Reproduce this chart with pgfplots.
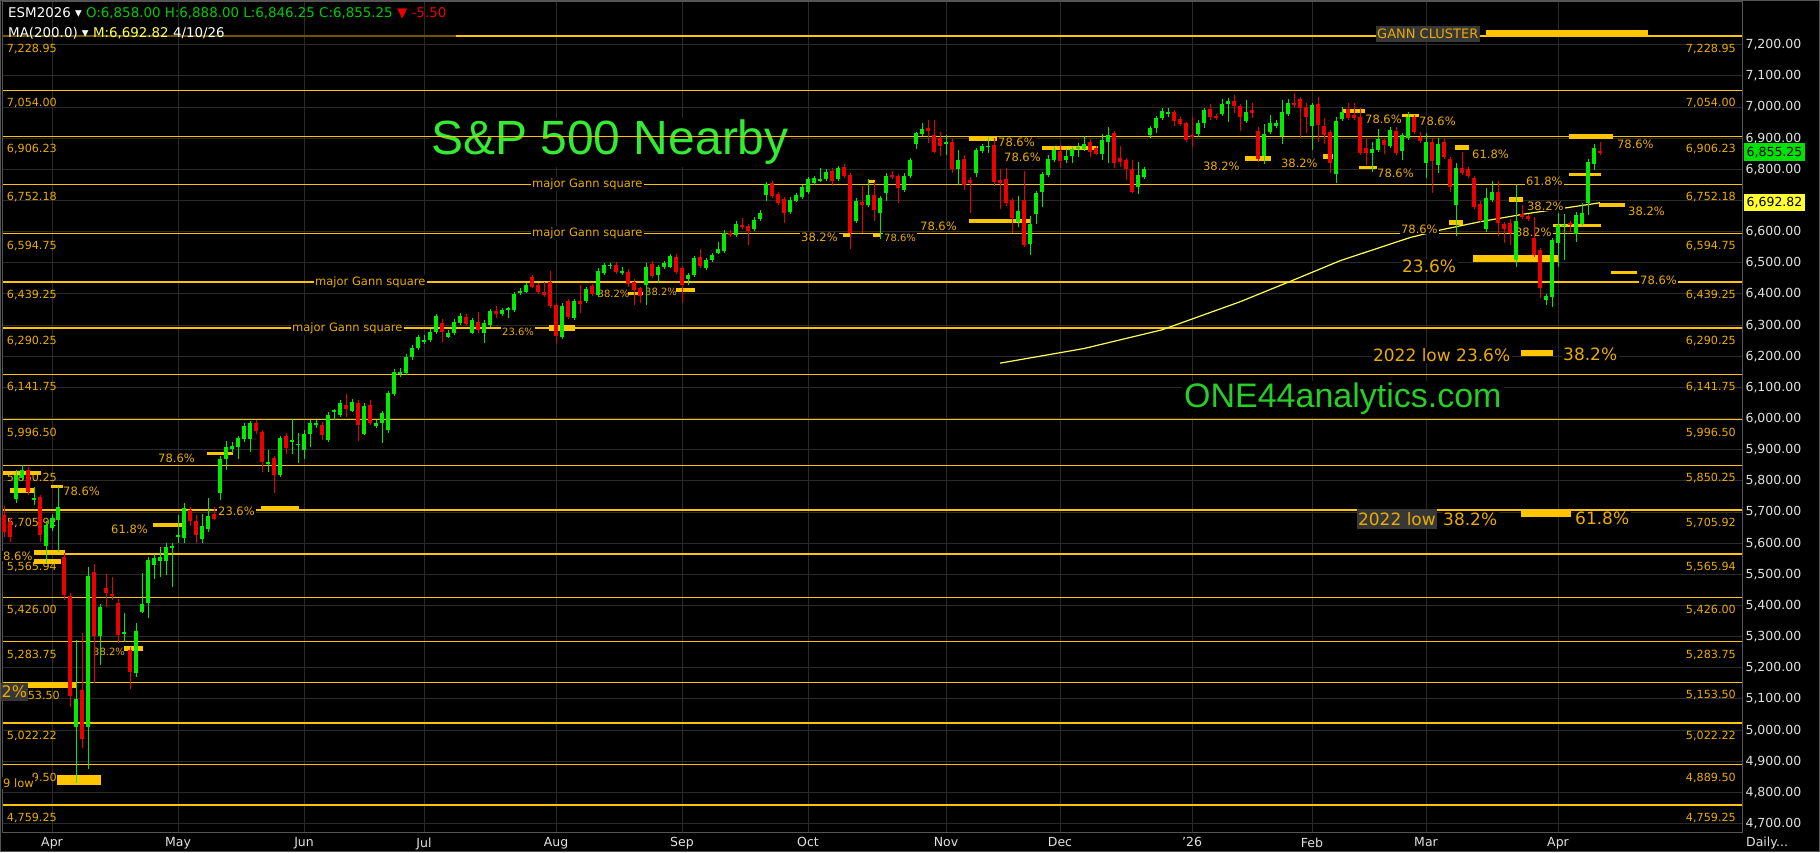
\documentclass[border=0pt]{standalone}
\usepackage{pgfplots}
\usepackage{pgfplotstable}
\pgfplotsset{compat=1.18}
\usepackage{fontspec}
\setmainfont{DejaVu Sans}
\newfontfamily\arialf{Liberation Sans}

\definecolor{gold}{RGB}{255,195,0}
\definecolor{golddim}{RGB}{110,85,0}
\definecolor{goldtxt}{RGB}{235,172,0}
\definecolor{goldbar}{RGB}{255,198,0}
\definecolor{cgreen}{RGB}{0,235,0}
\definecolor{cred}{RGB}{235,0,0}
\definecolor{gridc}{RGB}{42,42,42}
\definecolor{framec}{RGB}{85,85,85}
\definecolor{titlegreen}{RGB}{50,235,50}
\definecolor{sitegreen}{RGB}{40,205,40}
\definecolor{mayellow}{RGB}{255,255,90}
\definecolor{hdrgreen}{RGB}{0,205,0}
\definecolor{tickc}{RGB}{225,225,225}
\definecolor{labbg}{RGB}{55,55,55}
\definecolor{boxgreen}{RGB}{0,225,0}
\definecolor{boxyellow}{RGB}{255,255,50}

% pixel position of the reference -> axis units (candle index, price)
\newcommand\PX[1]{((#1-4)/6)}
\newcommand\PY[1]{(6600+(231.7-(#1))*3.21)}

\tikzset{
  sm/.style={font=\fontsize{11.5}{12}\selectfont, text=goldtxt, fill=black,
    inner xsep=1.5pt, inner ysep=1pt, anchor=west},
  sx/.style={sm, font=\fontsize{10}{11}\selectfont},
  lg/.style={sm, font=\fontsize{17}{18}\selectfont},
  glab/.style={font=\fontsize{11.2}{12}\selectfont, text=goldtxt, inner sep=0pt, yshift=-13pt},
}
\newcommand\lab[4][sm]{\node[#1] at (axis cs:{\PX{#2}},{\PY{#3}}) {#4};}
\newcommand\gbar[4]{\fill[goldbar] (axis cs:{\PX{#1}},{\PY{#3}}) rectangle (axis cs:{\PX{#2}},{\PY{#4}});}
% level line, right label, and left label (right-aligned, may be cut short)
\newcommand\gannline[1]{\draw[gold, line width=1.5pt] (axis cs:-0.17,#1) -- (axis cs:289.67,#1);}
\newcommand\gann[4][57]{%
  \gannline{#2}
  \node[glab, anchor=east] at (axis cs:{\PX{#1}},#2) {#4};
  \node[glab, anchor=east] at (axis cs:{\PX{1736}},#2) {#3};
}

% daily bars, ESM2026 nearby: index, open, high, low, close
\pgfplotstableread{
i O H L C
0 5690 5720 5620 5635
1 5669 5680 5605 5619
2 5741 5835 5730 5819
3 5808 5850 5800 5835
4 5835 5845 5755 5766
5 5740 5782 5723 5745
6 5747 5755 5605 5626
7 5591 5670 5535 5658
8 5648 5695 5640 5680
9 5675 5782 5573 5715
10 5557 5570 5418 5434
11 5431 5440 5075 5110
12 5009 5289 4831 5099
13 5129 5311 4942 4970
14 5009 5525 4874 5495
15 5509 5533 5150 5302
16 5302 5405 5209 5394
17 5455 5501 5394 5441
18 5437 5490 5418 5431
19 5409 5420 5279 5305
20 5311 5377 5284 5315
21 5257 5268 5131 5188
22 5185 5345 5172 5319
23 5380 5503 5375 5405
24 5409 5555 5359 5546
25 5530 5564 5484 5552
26 5544 5589 5493 5557
27 5544 5600 5498 5589
28 5584 5600 5460 5591
29 5619 5691 5602 5626
30 5616 5730 5602 5712
31 5707 5716 5655 5672
32 5672 5691 5602 5626
33 5613 5693 5600 5655
34 5645 5744 5637 5687
35 5694 5715 5675 5678
36 5762 5880 5739 5869
37 5869 5929 5835 5908
38 5901 5925 5890 5912
39 5908 5945 5869 5937
40 5933 5985 5925 5976
41 5933 5992 5894 5985
42 5985 5995 5950 5961
43 5958 5965 5830 5862
44 5858 5899 5830 5860
45 5872 5880 5760 5819
46 5819 5945 5812 5937
47 5944 5955 5888 5905
48 5925 6000 5885 5930
49 5915 5953 5856 5920
50 5899 5964 5869 5951
51 5951 5995 5910 5985
52 5980 5995 5970 5985
53 5980 5990 5931 5947
54 5931 6020 5925 6012
55 6022 6030 5996 6026
56 6012 6060 6005 6051
57 6044 6079 6006 6030
58 6026 6062 6020 6054
59 6051 6060 5929 5980
60 5950 6050 5947 6040
61 6044 6060 5980 5987
62 5976 5995 5970 5987
63 5987 6026 5921 6017
64 5963 6090 5955 6083
65 6079 6160 6072 6151
66 6145 6161 6132 6150
67 6148 6207 6140 6199
68 6199 6236 6188 6228
69 6226 6268 6220 6261
70 6247 6268 6240 6252
71 6252 6287 6245 6279
72 6279 6337 6272 6329
73 6308 6319 6247 6279
74 6263 6285 6260 6276
75 6274 6320 6268 6311
76 6306 6338 6300 6329
77 6325 6335 6296 6304
78 6276 6323 6270 6315
79 6311 6343 6274 6285
80 6276 6315 6244 6308
81 6300 6352 6295 6345
82 6345 6361 6322 6336
83 6336 6356 6330 6349
84 6350 6357 6322 6354
85 6349 6408 6342 6400
86 6404 6418 6397 6408
87 6408 6436 6402 6429
88 6454 6461 6418 6424
89 6429 6436 6400 6408
90 6408 6440 6390 6397
91 6440 6475 6355 6362
92 6365 6372 6242 6265
93 6261 6370 6255 6362
94 6376 6385 6320 6327
95 6322 6383 6315 6376
96 6376 6429 6338 6368
97 6376 6423 6370 6415
98 6426 6433 6393 6400
99 6397 6483 6390 6475
100 6466 6500 6460 6493
101 6490 6500 6480 6494
102 6493 6504 6465 6472
103 6469 6486 6461 6472
104 6472 6480 6421 6432
105 6440 6448 6365 6413
106 6418 6424 6370 6392
107 6429 6499 6365 6486
108 6496 6505 6450 6458
109 6461 6494 6434 6486
110 6486 6507 6480 6499
111 6488 6530 6482 6522
112 6520 6528 6465 6472
113 6483 6490 6372 6429
114 6447 6468 6429 6461
115 6461 6523 6455 6515
116 6518 6543 6484 6490
117 6483 6517 6477 6509
118 6509 6533 6503 6525
119 6533 6568 6527 6543
120 6539 6605 6532 6597
121 6597 6605 6583 6590
122 6590 6633 6583 6625
123 6622 6643 6608 6614
124 6618 6625 6557 6603
125 6608 6646 6602 6638
126 6640 6669 6634 6661
127 6718 6761 6697 6753
128 6755 6762 6708 6715
129 6721 6728 6686 6693
130 6704 6711 6627 6661
131 6664 6710 6657 6702
132 6700 6725 6694 6718
133 6710 6750 6704 6742
134 6729 6775 6722 6768
135 6757 6778 6750 6771
136 6766 6803 6761 6769
137 6768 6800 6762 6793
138 6796 6803 6747 6764
139 6768 6811 6762 6804
140 6807 6817 6772 6779
141 6782 6790 6543 6597
142 6635 6708 6628 6700
143 6696 6747 6595 6686
144 6686 6768 6680 6718
145 6718 6761 6635 6670
146 6661 6715 6575 6707
147 6723 6790 6697 6779
148 6782 6796 6770 6777
149 6779 6786 6693 6739
150 6734 6787 6728 6779
151 6779 6838 6772 6830
152 6882 6921 6865 6916
153 6914 6950 6908 6929
154 6932 6957 6884 6924
155 6910 6958 6851 6857
156 6900 6921 6843 6875
157 6881 6910 6846 6889
158 6889 6896 6789 6800
159 6800 6862 6750 6830
160 6832 6846 6734 6750
161 6766 6777 6659 6757
162 6789 6868 6774 6862
163 6860 6881 6853 6875
164 6872 6903 6851 6875
165 6878 6900 6747 6761
166 6766 6800 6672 6757
167 6768 6803 6684 6691
168 6702 6709 6597 6643
169 6632 6715 6616 6667
170 6702 6796 6552 6557
171 6560 6651 6525 6625
172 6657 6730 6625 6723
173 6728 6792 6678 6785
174 6782 6846 6775 6832
175 6830 6871 6823 6862
176 6860 6878 6803 6828
177 6830 6867 6819 6843
178 6843 6872 6819 6864
179 6868 6884 6839 6871
180 6864 6907 6858 6881
181 6889 6896 6839 6857
182 6868 6875 6845 6851
183 6851 6914 6830 6894
184 6889 6935 6819 6910
185 6916 6923 6803 6819
186 6835 6875 6809 6825
187 6830 6837 6766 6800
188 6800 6830 6725 6728
189 6742 6823 6721 6782
190 6774 6809 6768 6800
191 6910 6940 6900 6932
192 6932 6971 6916 6964
193 6964 6996 6958 6988
194 6980 6996 6969 6982
195 6985 6992 6939 6956
196 6961 6968 6940 6946
197 6950 6953 6888 6894
198 6910 6969 6871 6903
199 6914 6957 6903 6950
200 6948 6998 6932 6991
201 6993 7010 6960 6967
202 6971 6978 6957 6964
203 6978 7025 6972 7010
204 7010 7028 6953 7021
205 7021 7039 6980 7003
206 7003 7010 6924 6969
207 6956 7023 6948 6985
208 6991 7012 6964 6980
209 6923 6937 6825 6832
210 6843 6946 6817 6913
211 6921 6975 6915 6948
212 6939 6958 6932 6950
213 6907 7023 6881 6985
214 6978 7025 6972 7012
215 7014 7046 7000 7007
216 7025 7033 6900 6996
217 6999 7012 6918 6969
218 6939 7014 6862 7007
219 7010 7031 6889 6942
220 6939 6964 6881 6910
221 6921 6928 6787 6822
222 6785 6969 6755 6956
223 6961 7001 6955 6985
224 6993 7012 6957 6964
225 6975 7014 6958 6964
226 6969 6996 6847 6854
227 6868 6900 6814 6854
228 6854 6889 6793 6864
229 6862 6929 6856 6896
230 6894 6900 6849 6878
231 6875 6937 6870 6926
232 6924 6937 6847 6854
233 6860 6917 6830 6910
234 6900 6985 6893 6967
235 6969 6976 6914 6921
236 6905 6921 6885 6892
237 6822 6916 6771 6889
238 6889 6900 6723 6828
239 6814 6900 6787 6881
240 6889 6900 6832 6839
241 6832 6840 6728 6744
242 6686 6819 6586 6803
243 6803 6857 6782 6789
244 6800 6808 6772 6779
245 6771 6778 6673 6680
246 6689 6697 6630 6637
247 6608 6739 6600 6707
248 6702 6764 6695 6726
249 6728 6764 6586 6629
250 6625 6632 6563 6608
251 6629 6640 6557 6597
252 6509 6753 6486 6635
253 6657 6686 6640 6648
254 6651 6658 6634 6641
255 6579 6648 6518 6525
256 6541 6548 6386 6418
257 6381 6400 6365 6393
258 6389 6580 6357 6573
259 6565 6659 6488 6621
260 6618 6657 6509 6622
261 6627 6635 6600 6621
262 6593 6664 6568 6654
263 6625 6691 6618 6659
264 6691 6833 6654 6825
265 6817 6881 6798 6868
266 6858 6888 6846.25 6855.25
}\candles

\begin{document}
\begin{tikzpicture}
\fill[black] (0pt,0pt) rectangle (1820pt,852pt);
\draw[framec, line width=1pt] (0.5pt,0.5pt) rectangle (1819.5pt,851.5pt);
\begin{axis}[
  at={(3pt,20pt)}, anchor=south west, scale only axis,
  width=1739pt, height=830pt,
  xmin=-0.17, xmax=289.67, ymin=4673.04, ymax=7337.34,
  clip=false,
  axis line style={framec, line width=1pt},
  xtick={8,29,50,70,92,113,134,157,176,198,218,237,259},
  xticklabels={Apr,May,Jun,Jul,Aug,Sep,Oct,Nov,Dec,'26,Feb,Mar,Apr},
  ytick={4700,4800,...,7200},
  yticklabels={{4,700.00},{4,800.00},{4,900.00},{5,000.00},{5,100.00},{5,200.00},
    {5,300.00},{5,400.00},{5,500.00},{5,600.00},{5,700.00},{5,800.00},{5,900.00},
    {6,000.00},{6,100.00},{6,200.00},{6,300.00},{6,400.00},{6,500.00},{6,600.00},
    {},{6,800.00},{6,900.00},{7,000.00},{7,100.00},{7,200.00}},
  yticklabel pos=right,
  major tick length=0pt, tick style={draw=none},
  xmajorgrids, ymajorgrids,
  major grid style={gridc, line width=1pt},
  ticklabel style={text=tickc, font=\fontsize{12.5}{13}\selectfont},
  xticklabel style={yshift=-2pt},
]
% title and site, on black boxes
\node[anchor=base west, font=\arialf\fontsize{48}{50}\selectfont, text=titlegreen,
  fill=black, inner sep=2pt] at (axis cs:{\PX{429}},{\PY{155}}) {S\&P 500 Nearby};
\node[anchor=base west, font=\arialf\fontsize{34}{36}\selectfont, text=sitegreen,
  fill=black, inner sep=2pt] at (axis cs:{\PX{1182}},{\PY{408}}) {ONE44analytics.com};

% Gann levels
\draw[golddim, line width=1.5pt] (axis cs:-0.17,7228.95) -- (axis cs:{\PX{456}},7228.95);
\draw[gold, line width=1.5pt] (axis cs:{\PX{456}},7228.95) -- (axis cs:289.67,7228.95);
\node[glab, anchor=east] at (axis cs:{\PX{57}},7228.95) {7,228.95};
\node[glab, anchor=east] at (axis cs:{\PX{1736}},7228.95) {7,228.95};
\gann{7054.00}{7,054.00}{7,054.00}
\gann{6906.23}{6,906.23}{6,906.23}
\gann{6752.18}{6,752.18}{6,752.18}
\gann{6594.75}{6,594.75}{6,594.75}
\gann{6439.25}{6,439.25}{6,439.25}
\gann{6290.25}{6,290.25}{6,290.25}
\gann{6141.75}{6,141.75}{6,141.75}
\gann{5996.50}{5,996.50}{5,996.50}
\gann{5850.25}{5,850.25}{5,850.25}
\gann{5705.92}{5,705.92}{5,705.92}
\gann{5565.94}{5,565.94}{5,565.94}
\gann{5426.00}{5,426.00}{5,426.00}
\gann{5283.75}{5,283.75}{5,283.75}
\gann[60]{5153.50}{5,153.50}{53.50}
\gann{5022.22}{5,022.22}{5,022.22}
\gann{4889.50}{4,889.50}{9.50}
\gann{4759.25}{4,759.25}{4,759.25}

% 200-day moving average
\addplot[mayellow, line width=1.2pt, forget plot] coordinates {
  (166,6178) (180,6225) (193,6285) (206,6375) (214.3,6440) (222.7,6507)
  (234.3,6581) (239.3,6605) (246,6632) (253.5,6657) (266,6692.82)};

% labels
\lab[sm,font=\fontsize{13}{14}\selectfont,fill=labbg,inner ysep=3pt]{1375.5}{34}{GANN CLUSTER}
\lab{1363.5}{119}{78.6\%}
\lab{1417.5}{121}{78.6\%}
\lab{1470.5}{154}{61.8\%}
\lab{1615.5}{144}{78.6\%}
\lab{1524.5}{181}{61.8\%}
\lab{1525.5}{206}{38.2\%}
\lab{1626.5}{211}{38.2\%}
\lab{1399.5}{229}{78.6\%}
\lab{1513.5}{232}{38.2\%}
\lab[lg]{1400.5}{266}{23.6\%}
\lab{1638.5}{280}{78.6\%}
\lab{1375.5}{173}{78.6\%}
\lab{1279.5}{163}{38.2\%}
\lab{1201.5}{166}{38.2\%}
\lab{996.5}{142}{78.6\%}
\lab{1002.5}{157}{78.6\%}
\lab{918.5}{226}{78.6\%}
\lab{799.5}{237}{38.2\%}
\lab[sx]{882.5}{238}{78.6\%}
\lab[sx]{596}{294}{38.2\%}
\lab[sx]{643.5}{292}{38.2\%}
\lab[sx]{500.5}{332}{23.6\%}
\lab{530.5}{184}{major Gann square}
\lab{530.5}{233}{major Gann square}
\lab{313.5}{282}{major Gann square}
\lab{290.5}{328}{major Gann square}
\lab{156.5}{458}{78.6\%}
\lab{216.5}{511}{23.6\%}
\lab{109.5}{529}{61.8\%}
\lab{61.5}{491}{78.6\%}
\lab{1.5}{556}{8.6\%}
\lab[sx]{91.5}{652}{38.2\%}
\lab[lg,font=\fontsize{16}{17}\selectfont,fill=labbg,inner xsep=1pt,inner ysep=3pt]{0.5}{692}{2\%}
\lab[sm,inner ysep=2pt]{1.5}{783}{9 low}
\lab[lg]{1371.5}{355}{2022 low 23.6\%}
\lab[lg]{1561.5}{354}{38.2\%}
\lab[lg,fill=labbg,inner ysep=3pt]{1356.5}{519}{2022 low}
\lab[lg]{1441.5}{519}{38.2\%}
\lab[lg]{1573.5}{518}{61.8\%}

% retracement bars
\gbar{1486}{1648}{30.5}{37.5}
\gbar{1342}{1365}{109}{113}
\gbar{1402}{1419}{114}{117}
\gbar{1455}{1469}{145}{150}
\gbar{1569}{1613}{134.5}{139}
\gbar{1569}{1601}{173}{176}
\gbar{1509}{1523}{197}{202}
\gbar{1599}{1625}{203}{207}
\gbar{1553}{1601}{224}{227}
\gbar{1449}{1463}{220}{225}
\gbar{1473}{1559}{255}{262}
\gbar{1611}{1637}{271}{274}
\gbar{1359}{1377}{166}{169}
\gbar{1245}{1271}{156}{161}
\gbar{1323}{1333}{154}{159}
\gbar{1042}{1098}{146}{150}
\gbar{969}{997}{136}{141}
\gbar{969}{1030}{219}{223}
\gbar{868}{875}{180}{183}
\gbar{843}{851}{234}{237}
\gbar{873}{881}{233}{237}
\gbar{628}{643}{292}{295}
\gbar{676}{695}{288}{292}
\gbar{549}{575}{325}{331}
\gbar{1521}{1553}{350}{356}
\gbar{1521}{1571}{509}{517}
\gbar{3}{41}{471}{475}
\gbar{10}{35}{488}{493}
\gbar{51}{63}{485}{488}
\gbar{207}{233}{452}{455}
\gbar{261}{299}{506}{511}
\gbar{153}{182}{523}{527}
\gbar{34}{65}{550}{553}
\gbar{34}{61}{559}{564}
\gbar{124}{143}{646}{651}
\gbar{28}{77}{682}{688}
\gbar{57}{101}{775}{785}

% candles: wicks, then bodies
\addplot[draw=none, mark=none, forget plot, error bars/.cd, y dir=both, y explicit,
  error mark=none, error bar style={draw=cgreen, line width=1pt}]
  table[x=i, y expr={\thisrow{C}>=\thisrow{O} ? 0.5*(\thisrow{H}+\thisrow{L}) : nan},
        y error expr={0.5*(\thisrow{H}-\thisrow{L})}] {\candles};
\addplot[draw=none, mark=none, forget plot, error bars/.cd, y dir=both, y explicit,
  error mark=none, error bar style={draw=cred, line width=1pt}]
  table[x=i, y expr={\thisrow{C}<\thisrow{O} ? 0.5*(\thisrow{H}+\thisrow{L}) : nan},
        y error expr={0.5*(\thisrow{H}-\thisrow{L})}] {\candles};
\addplot[draw=none, mark=none, forget plot, error bars/.cd, y dir=both, y explicit,
  error mark=none, error bar style={draw=cgreen, line width=4pt}]
  table[x=i, y expr={\thisrow{C}>=\thisrow{O} ? 0.5*(\thisrow{O}+\thisrow{C}) : nan},
        y error expr={max(0.5*abs(\thisrow{C}-\thisrow{O}),2.5)}] {\candles};
\addplot[draw=none, mark=none, forget plot, error bars/.cd, y dir=both, y explicit,
  error mark=none, error bar style={draw=cred, line width=4pt}]
  table[x=i, y expr={\thisrow{C}<\thisrow{O} ? 0.5*(\thisrow{O}+\thisrow{C}) : nan},
        y error expr={max(0.5*abs(\thisrow{C}-\thisrow{O}),2.5)}] {\candles};

% header
\node[anchor=base west, inner sep=0pt, font=\fontsize{13.4}{14}\selectfont]
  at (axis cs:{\PX{8}},{\PY{17.5}})
  {\textcolor{white}{ESM2026 ▾} \textcolor{hdrgreen}{O:6,858.00 H:6,888.00 L:6,846.25 C:6,855.25} \textcolor{cred}{▼ -5.50}};
\node[anchor=base west, inner sep=0pt, font=\fontsize{13.4}{14}\selectfont]
  at (axis cs:{\PX{8}},{\PY{38}})
  {\textcolor{white}{MA(200.0) ▾} \textcolor{mayellow}{M:6,692.82} \textcolor{white}{4/10/26}};

% last price and MA boxes on the scale
\node[anchor=west, fill=boxgreen, text=black, font=\fontsize{12.5}{13}\selectfont,
  inner xsep=2.5pt, minimum height=17pt] at (axis cs:{\PX{1744}},6855.25) {6,855.25};
\node[anchor=west, fill=boxyellow, text=black, font=\fontsize{12.5}{13}\selectfont,
  inner xsep=2.5pt, minimum height=17pt] at (axis cs:{\PX{1744}},6692.82) {6,692.82};
\node[anchor=west, text=tickc, inner sep=0pt, font=\fontsize{12.5}{13}\selectfont]
  at (axis cs:{\PX{1746}},{\PY{843}}) {Daily...};
\end{axis}
\end{tikzpicture}
\end{document}
